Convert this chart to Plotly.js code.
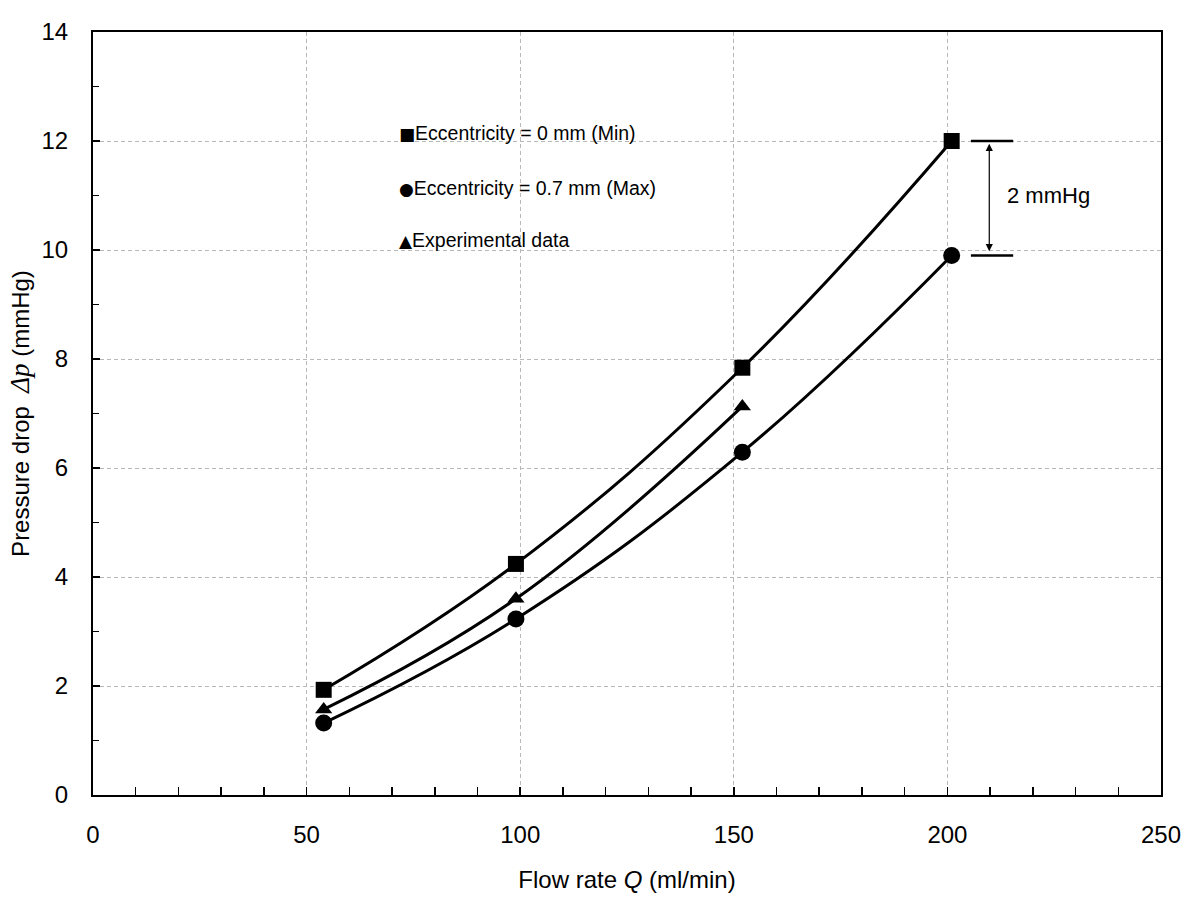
<!DOCTYPE html>
<html>
<head>
<meta charset="utf-8">
<script src="https://cdn.plot.ly/plotly-3.0.1.min.js"></script>
<style>html,body{margin:0;padding:0;background:#fff;}#chart{width:1200px;height:900px;}</style>
</head>
<body>
<div id="chart"></div>
<script>
// Data
const flowMin = [54, 99, 152, 201];
const dpMin = [1.93, 4.24, 7.84, 12.0];          // Eccentricity = 0 mm (Min)
const flowMax = [54, 99, 152, 201];
const dpMax = [1.32, 3.23, 6.29, 9.9];           // Eccentricity = 0.7 mm (Max)
const flowExp = [54, 99, 152];
const dpExp = [1.57, 3.6, 7.13];                 // Experimental data
const legendLabels = ['Eccentricity = 0 mm (Min)', 'Eccentricity = 0.7 mm (Max)', 'Experimental data'];
const legendSymbols = ['\u25A0', '\u25CF', '\u25B2'];
const xTicks = [0, 50, 100, 150, 200, 250];
const yTicks = [0, 2, 4, 6, 8, 10, 12, 14];
const diffLabel = '2 mmHg';

const lineStyle = {color: '#000', width: 3, shape: 'spline', smoothing: 1.2};
const traces = [
  {x: flowMin, y: dpMin, mode: 'lines+markers', line: lineStyle,
   marker: {symbol: 'square', size: 16, color: '#000'}, showlegend: false},
  {x: flowMax, y: dpMax, mode: 'lines+markers', line: lineStyle,
   marker: {symbol: 'circle', size: 17, color: '#000'}, showlegend: false},
  {x: flowExp, y: dpExp, mode: 'lines+markers', line: lineStyle,
   marker: {symbol: 'triangle-up', size: 15, color: '#000'}, showlegend: false}
];

const font = {family: 'Liberation Sans, Arial, sans-serif', color: '#000'};
const annotations = legendLabels.map((t, i) => ({
  xref: 'paper', yref: 'paper', x: 0.285, y: [0.867, 0.795, 0.728][i],
  xanchor: 'left', yanchor: 'middle', showarrow: false,
  text: '<span style="font-family:DejaVu Sans;font-size:17px">' + legendSymbols[i] + '</span>' + t,
  font: {family: 'Liberation Sans, Arial', size: 19.5, color: '#000'}
}));
// double arrow between the two curves at Q=200
annotations.push({
  x: 209.8, y: dpMin[3] - 0.05, ax: 209.8, ay: dpMax[3] + 0.05,
  xref: 'x', yref: 'y', axref: 'x', ayref: 'y',
  showarrow: true, arrowside: 'end+start', arrowhead: 2, arrowsize: 1.2, arrowwidth: 1.2,
  arrowcolor: '#000', text: ''
});
annotations.push({
  x: 213.5, y: (dpMin[3] + dpMax[3]) / 2 + 0.05, xref: 'x', yref: 'y',
  xanchor: 'left', yanchor: 'middle', showarrow: false, text: diffLabel,
  font: {family: 'Liberation Sans, Arial', size: 22, color: '#000'}
});

const shapes = [dpMin[3], dpMax[3]].map(v => ({
  type: 'line', xref: 'x', yref: 'y', x0: 205.5, x1: 215.4, y0: v, y1: v,
  line: {color: '#000', width: 2.5}
}));

const layout = {
  width: 1200, height: 900,
  margin: {l: 93, r: 39, t: 32, b: 105},
  paper_bgcolor: '#fff', plot_bgcolor: '#fff',
  font: font,
  showlegend: false,
  xaxis: {
    range: [0, 250], tickvals: xTicks, ticktext: xTicks.map(String),
    showline: true, linecolor: '#000', linewidth: 2, mirror: true,
    ticks: 'inside', ticklen: 8, tickwidth: 1.5, tickcolor: '#000',
    showgrid: true, gridcolor: '#b8b8b8', griddash: '4px,3px', gridwidth: 1,
    zeroline: false,
    minor: {dtick: 10, ticks: 'inside', ticklen: 8, tickwidth: 1.5, tickcolor: '#000', showgrid: false},
    tickfont: {size: 24, family: 'Liberation Sans, Arial'},
    ticklabelstandoff: 17,
    title: {text: 'Flow rate <i>Q</i> (ml/min)', font: {size: 24, family: 'Liberation Sans, Arial'}, standoff: 24}
  },
  yaxis: {
    range: [0, 14], tickvals: yTicks, ticktext: yTicks.map(String),
    showline: true, linecolor: '#000', linewidth: 2, mirror: true,
    ticks: 'inside', ticklen: 7, tickwidth: 1.5, tickcolor: '#000',
    showgrid: true, gridcolor: '#b8b8b8', griddash: '4px,3px', gridwidth: 1,
    zeroline: false,
    minor: {dtick: 1, ticks: 'inside', ticklen: 6, tickwidth: 1.5, tickcolor: '#000', showgrid: false},
    tickfont: {size: 24, family: 'Liberation Sans, Arial'},
    ticklabelstandoff: 18,
    title: {text: 'Pressure drop  <span style="font-family:Liberation Serif,Times New Roman,serif;font-size:27px"><i>\u0394p</i></span> (mmHg)',
            font: {size: 24, family: 'Liberation Sans, Arial'}, standoff: 5}
  },
  annotations: annotations,
  shapes: shapes
};

Plotly.newPlot('chart', traces, layout, {staticPlot: true, displayModeBar: false});
</script>
</body>
</html>
